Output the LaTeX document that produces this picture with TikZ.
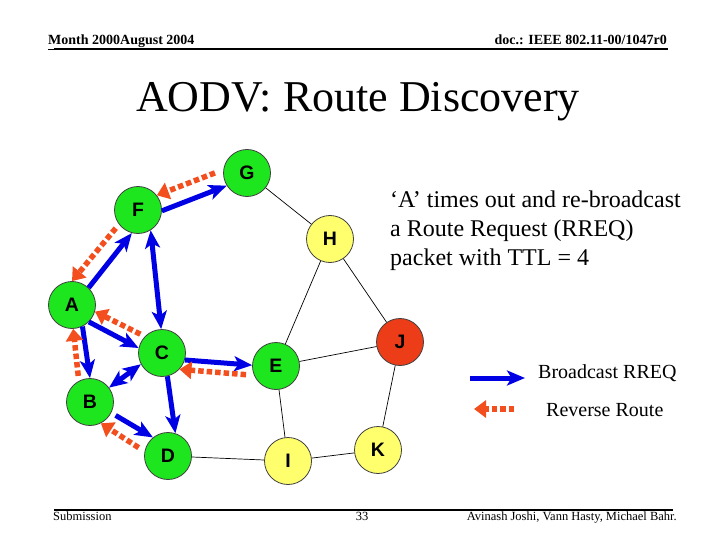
\documentclass[tikz,border=0pt]{standalone}
\usepackage{fontspec}
\setmainfont{Liberation Serif}
\setsansfont{Liberation Sans}
\usetikzlibrary{arrows.meta}

\definecolor{nodegreen}{RGB}{30,230,30}
\definecolor{nodeyellow}{RGB}{255,255,110}
\definecolor{nodered}{RGB}{236,60,24}
\definecolor{rreqblue}{RGB}{0,0,228}
\definecolor{revred}{RGB}{242,78,30}

\begin{document}
\begin{tikzpicture}[
    x=1pt, y=-1pt,
    mob/.style={
        circle,
        draw=black!75,
        line width=0.8pt,
        fill=#1,
        minimum size=47pt,
        inner sep=0pt,
        font=\sffamily\bfseries\fontsize{19.5}{19.5}\selectfont
    },
    link/.style={draw=black, line width=0.7pt},
    rreq/.style={-{Stealth[length=18pt,width=15pt,inset=4.5pt]}, line width=5pt, draw=rreqblue},
    rreqboth/.style={rreq, {Stealth[length=18pt,width=15pt,inset=4.5pt]}-{Stealth[length=18pt,width=15pt,inset=4.5pt]}},
    rrev/.style={-{Triangle[length=12pt,width=17pt]}, line width=5.5pt, draw=revred,
        dash pattern=on 5.5pt off 3pt, shorten <=5pt},
    hdr/.style={font=\bfseries\fontsize{14}{14}\selectfont, inner sep=0pt},
    ftr/.style={font=\fontsize{12.5}{12.5}\selectfont, inner sep=0pt},
    legtext/.style={font=\fontsize{20}{20}\selectfont, inner sep=0pt, anchor=base west},
    rule/.style={line width=2pt}
]
\useasboundingbox (0,0) rectangle (720,540);

% Header and footer
\node[hdr, anchor=base west] (month) at (48,45)  {\underline{Month 2000August 2004}};
\node[hdr, anchor=base east] (doc)   at (667,45) {doc.: IEEE 802.11-00/1047r0};
\draw[rule] (54,49) -- (668,49);

\draw[rule] (54,510) -- (673,510);
\node[ftr, anchor=base west] (subm)    at (53,520)  {Submission};
\node[ftr, anchor=base]      (pageno)  at (362,520) {33};
\node[ftr, anchor=base east] (authors) at (677,520) {Avinash Joshi, Vann Hasty, Michael Bahr.};

% Title
\node[font=\fontsize{44}{44}\selectfont, anchor=base, inner sep=0pt] (title) at (358,112) {AODV: Route Discovery};

% Mobile nodes
\node[mob=nodegreen]  (G) at (247,173) {G};
\node[mob=nodegreen]  (F) at (138,210) {F};
\node[mob=nodeyellow] (H) at (330,239) {H};
\node[mob=nodegreen]  (A) at (72,305)  {A};
\node[mob=nodegreen]  (C) at (162,353) {C};
\node[mob=nodegreen]  (E) at (276,366) {E};
\node[mob=nodered]    (J) at (400,342) {J};
\node[mob=nodegreen]  (B) at (90,402)  {B};
\node[mob=nodegreen]  (D) at (168,456) {D};
\node[mob=nodeyellow] (I) at (288,461) {I};
\node[mob=nodeyellow] (K) at (378,450) {K};

% Radio links
\draw[link] (G) -- (H);
\draw[link] (H) -- (J);
\draw[link] (H) -- (E);
\draw[link] (E) -- (J);
\draw[link] (E) -- (I);
\draw[link] (J) -- (K);
\draw[link] (K) -- (I);
\draw[link] (D) -- (I);

% Broadcast RREQ
\draw[rreq]     (F.-2)  -- (G.212);
\draw[rreq]     (A.46)  -- (F.255);
\draw[rreqboth] (F.-58) -- (C.92);
\draw[rreq]     (A.-45) -- (C.168);
\draw[rreq]     (A.-64) -- (B.90);
\draw[rreqboth] (B.37)  -- (C.208);
\draw[rreq]     (C.-17) -- (E.178);
\draw[rreq]     (C.-77) -- (D.72);
\draw[rreq, shorten <=5pt] (B.-27) -- (D.129);

% Reverse route
\draw[rrev, shorten <=9pt] (G.172) -- (F.38);
\draw[rrev] (F.217) -- (A.90);
\draw[rrev] (C.136) -- (A.-16);
\draw[rrev] (B.118) -- (A.-87);
\draw[rrev, shorten <=8pt] (E.203) -- (C.-43);
\draw[rrev, shorten <=7pt] (D.169) -- (B.-63);

% Explanation
\node[font=\fontsize{24}{29}\selectfont, align=left, anchor=north west, inner sep=0pt] (note) at (390,191)
  {‘A’ times out and re-broadcast\\a Route Request (RREQ)\\packet with TTL = 4};

% Legend
\coordinate (bcastL) at (470,378);
\coordinate (bcastR) at (525,378);
\coordinate (revL)   at (474,409);
\coordinate (revR)   at (514,409);
\draw[rreq] (bcastL) -- (bcastR);
\draw[rrev, shorten <=0pt] (revR) -- (revL);
\node[legtext] (bcasttext) at (538,378) {Broadcast RREQ};
\node[legtext] (revtext)   at (546,416) {Reverse Route};

\end{tikzpicture}
\end{document}
